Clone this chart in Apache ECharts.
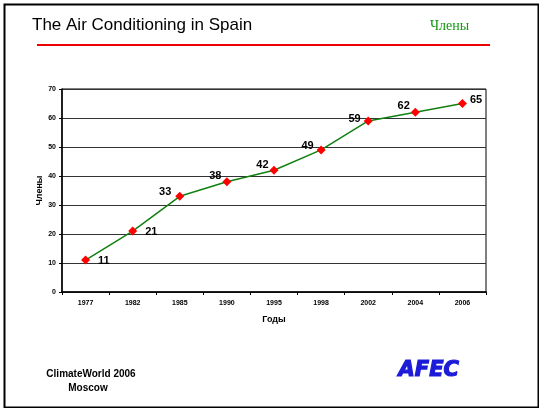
<!DOCTYPE html>
<html>
<head>
<meta charset="utf-8">
<script src="https://cdn.jsdelivr.net/npm/echarts@6/dist/echarts.min.js"></script>
<style>
  html, body { margin: 0; padding: 0; background: #fff; }
  #chart { width: 539px; height: 408px; }
</style>
</head>
<body>
<div id="chart"></div>
<script>
// years on the x axis and number of members
const years = ['1977', '1982', '1985', '1990', '1995', '1998', '2002', '2004', '2006']
const members = [11, 21, 33, 38, 42, 49, 59, 62, 65]
const yTicks = [0, 10, 20, 30, 40, 50, 60, 70]

// where each value label sits next to its marker
const labelSide = ['right', 'right', 'left', 'left', 'left', 'left', 'left', 'left', 'right']
const labelShift = [[0, 1], [0, 1], [4, -4], [7, -6], [7, -5], [5, -4], [5, -2], [7, -6], [-5, -4]]

const chart = echarts.init(document.getElementById('chart'))

const pts = members.map(function (v, i) {
  return {
    value: v,
    label: { position: labelSide[i], offset: labelShift[i], distance: 8 }
  }
})

const option = {
  backgroundColor: '#ffffff',
  animation: false,
  textStyle: { fontFamily: 'Liberation Sans, Arial, sans-serif' },
  grid: {
    left: 62, right: 53, top: 89, bottom: 116,
    show: true, borderColor: '#000', borderWidth: 1
  },
  xAxis: {
    type: 'category',
    data: years,
    boundaryGap: true,
    name: 'Годы',
    nameLocation: 'middle',
    nameGap: 23,
    nameTextStyle: { fontSize: 9, fontWeight: 'bold', color: '#000' },
    axisLine: { lineStyle: { color: '#000', width: 1.5 } },
    axisTick: { show: true, length: 3, lineStyle: { color: '#000' } },
    axisLabel: { fontSize: 7, fontWeight: 'bold', color: '#000', margin: 8 }
  },
  yAxis: {
    type: 'value',
    min: yTicks[0],
    max: yTicks[yTicks.length - 1],
    interval: 10,
    name: 'Члены',
    nameLocation: 'middle',
    nameGap: 18,
    nameMoveOverlap: false,
    nameTextStyle: { fontSize: 9, fontWeight: 'bold', color: '#000' },
    axisLine: { show: true, lineStyle: { color: '#000', width: 1.5 } },
    axisTick: { show: true, length: 3, lineStyle: { color: '#000' } },
    axisLabel: { fontSize: 7, fontWeight: 'bold', color: '#000', margin: 6 },
    splitLine: { show: true, lineStyle: { color: '#333', width: 1.2 } }
  },
  series: [{
    type: 'line',
    data: pts,
    symbol: 'diamond',
    symbolSize: 9,
    itemStyle: { color: '#ff0000' },
    lineStyle: { color: '#108010', width: 1.5 },
    label: {
      show: true,
      fontSize: 11,
      fontWeight: 'bold',
      color: '#000'
    }
  }],
  graphic: [
    {
      type: 'rect', left: 2, top: 2,
      shape: { width: 534, height: 403 },
      style: { fill: 'none', stroke: '#000', lineWidth: 2 }
    },
    {
      type: 'text', left: 32, top: 17,
      style: { text: 'The Air Conditioning in Spain', fontSize: 17, fill: '#000', fontFamily: 'Liberation Sans, Arial, sans-serif' }
    },
    {
      type: 'text', left: 430, top: 19,
      style: { text: 'Члены', fontSize: 14, fill: '#119911', fontFamily: 'Liberation Serif, Times New Roman, serif' }
    },
    {
      type: 'line',
      shape: { x1: 37, y1: 45, x2: 490, y2: 45 },
      style: { stroke: '#ee0000', lineWidth: 2 }
    },
    {
      type: 'text', x: 91, y: 369,
      style: { text: 'ClimateWorld 2006', fontSize: 10, fontWeight: 'bold', fill: '#000', align: 'center', fontFamily: 'Liberation Sans, Arial, sans-serif' }
    },
    {
      type: 'text', x: 88, y: 383,
      style: { text: 'Moscow', fontSize: 10, fontWeight: 'bold', fill: '#000', align: 'center', fontFamily: 'Liberation Sans, Arial, sans-serif' }
    },
    {
      type: 'text', left: 398, top: 359,
      style: {
        text: 'AFEC', fontSize: 21, fontWeight: 900, fontStyle: 'italic',
        fill: '#1c1cd8', stroke: '#1c1cd8', lineWidth: 1.2,
        fontFamily: 'DejaVu Sans, sans-serif'
      }
    }
  ]
}

chart.setOption(option)
</script>
</body>
</html>
